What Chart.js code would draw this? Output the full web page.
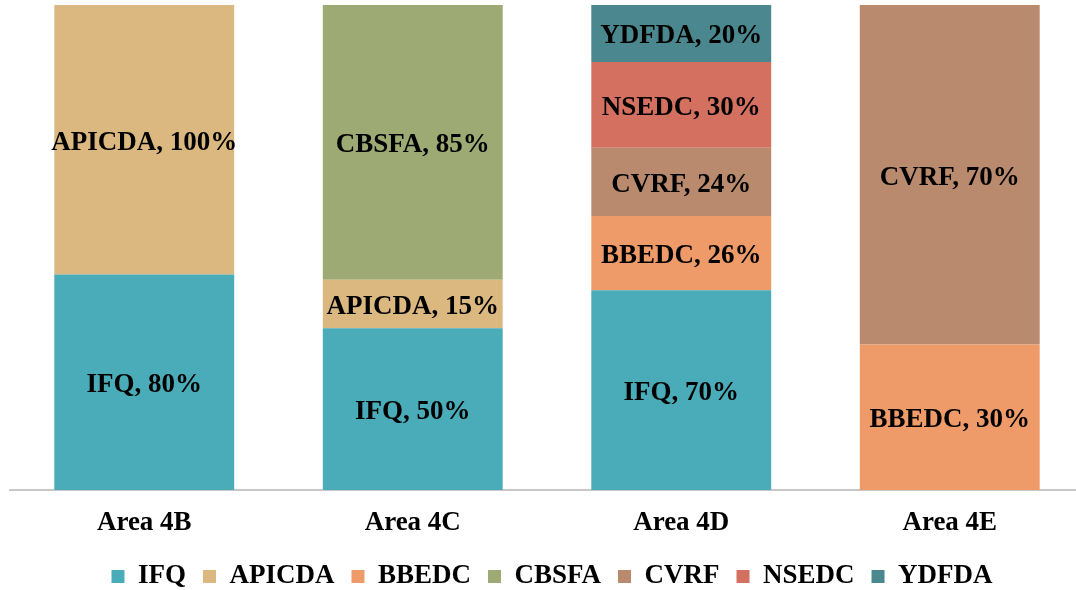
<!DOCTYPE html>
<html>
<head>
<meta charset="utf-8">
<script src="https://cdn.jsdelivr.net/npm/chart.js@4.4.1/dist/chart.umd.min.js"></script>
<style>
html,body{margin:0;padding:0;background:#fff;overflow:hidden;}
#wrap{position:relative;width:1076px;height:590px;overflow:hidden;}
#box{position:absolute;left:0;top:0;width:1090px;height:600px;}
</style>
</head>
<body>
<div id="wrap"><div id="box"><canvas id="c"></canvas></div></div>
<script>
const categories = ["Area 4B", "Area 4C", "Area 4D", "Area 4E"];
const IFQ    = [80, 50, 70, null];
const APICDA = [100, 15, null, null];
const BBEDC  = [null, null, 26, 30];
const CBSFA  = [null, 85, null, null];
const CVRF   = [null, null, 24, 70];
const NSEDC  = [null, null, 30, null];
const YDFDA  = [null, null, 20, null];

const seriesNames = ["IFQ", "APICDA", "BBEDC", "CBSFA", "CVRF", "NSEDC", "YDFDA"];
const seriesValues = [IFQ, APICDA, BBEDC, CBSFA, CVRF, NSEDC, YDFDA];
const colors = ["#4BACB9", "#DCB881", "#EF9B69", "#9DAA73", "#B98A6D", "#D4705F", "#4B878E"];

const totals = categories.map((_, i) => seriesValues.reduce((s, arr) => s + (arr[i] || 0), 0));

const FONT = "'Liberation Serif','Times New Roman',serif";
const FSIZE = 27;

const datasets = seriesNames.map((name, k) => ({
  label: name,
  raw: seriesValues[k],
  data: seriesValues[k].map((v, i) => v == null ? null : v / totals[i] * 100),
  backgroundColor: colors[k],
  borderWidth: 0,
  categoryPercentage: 1.0,
  barPercentage: 0.67
}));

const labelPlugin = {
  id: 'barLabels',
  afterLayout(chart) {
    if (chart.legend) { chart.legend.left += 5; chart.legend.right += 5; }
  },
  afterDatasetsDraw(chart) {
    const ctx = chart.ctx;
    ctx.save();
    ctx.font = "bold " + FSIZE + "px " + FONT;
    ctx.fillStyle = "#000";
    ctx.textAlign = "center";
    ctx.textBaseline = "middle";
    chart.data.datasets.forEach((ds, di) => {
      const meta = chart.getDatasetMeta(di);
      meta.data.forEach((bar, i) => {
        const v = ds.raw[i];
        if (v == null) return;
        const p = bar.getProps(['x', 'y', 'base'], true);
        ctx.fillText(ds.label + ", " + v + "%", p.x, (p.y + p.base) / 2 + 3);
      });
    });
    ctx.restore();
  }
};

new Chart(document.getElementById('c'), {
  type: 'bar',
  data: { labels: categories, datasets },
  options: {
    responsive: true,
    maintainAspectRatio: false,
    animation: false,
    layout: { padding: { left: 10, right: 6, top: 5, bottom: 0 } },
    plugins: {
      tooltip: { enabled: false },
      legend: {
        position: 'bottom',
        labels: {
          boxWidth: 13,
          boxHeight: 13,
          padding: 17,
          color: '#000',
          font: { family: FONT, size: FSIZE, weight: 'bold' }
        }
      }
    },
    scales: {
      x: {
        stacked: true,
        grid: { display: false, drawTicks: false },
        border: { display: true, color: '#C8C8C8', width: 2 },
        ticks: { color: '#000', padding: 17, font: { family: FONT, size: FSIZE, weight: 'bold' } },
        afterFit(scale) { scale.height = 56; }
      },
      y: {
        stacked: true,
        display: false,
        min: 0,
        max: 100
      }
    }
  },
  plugins: [labelPlugin]
});
</script>
</body>
</html>
